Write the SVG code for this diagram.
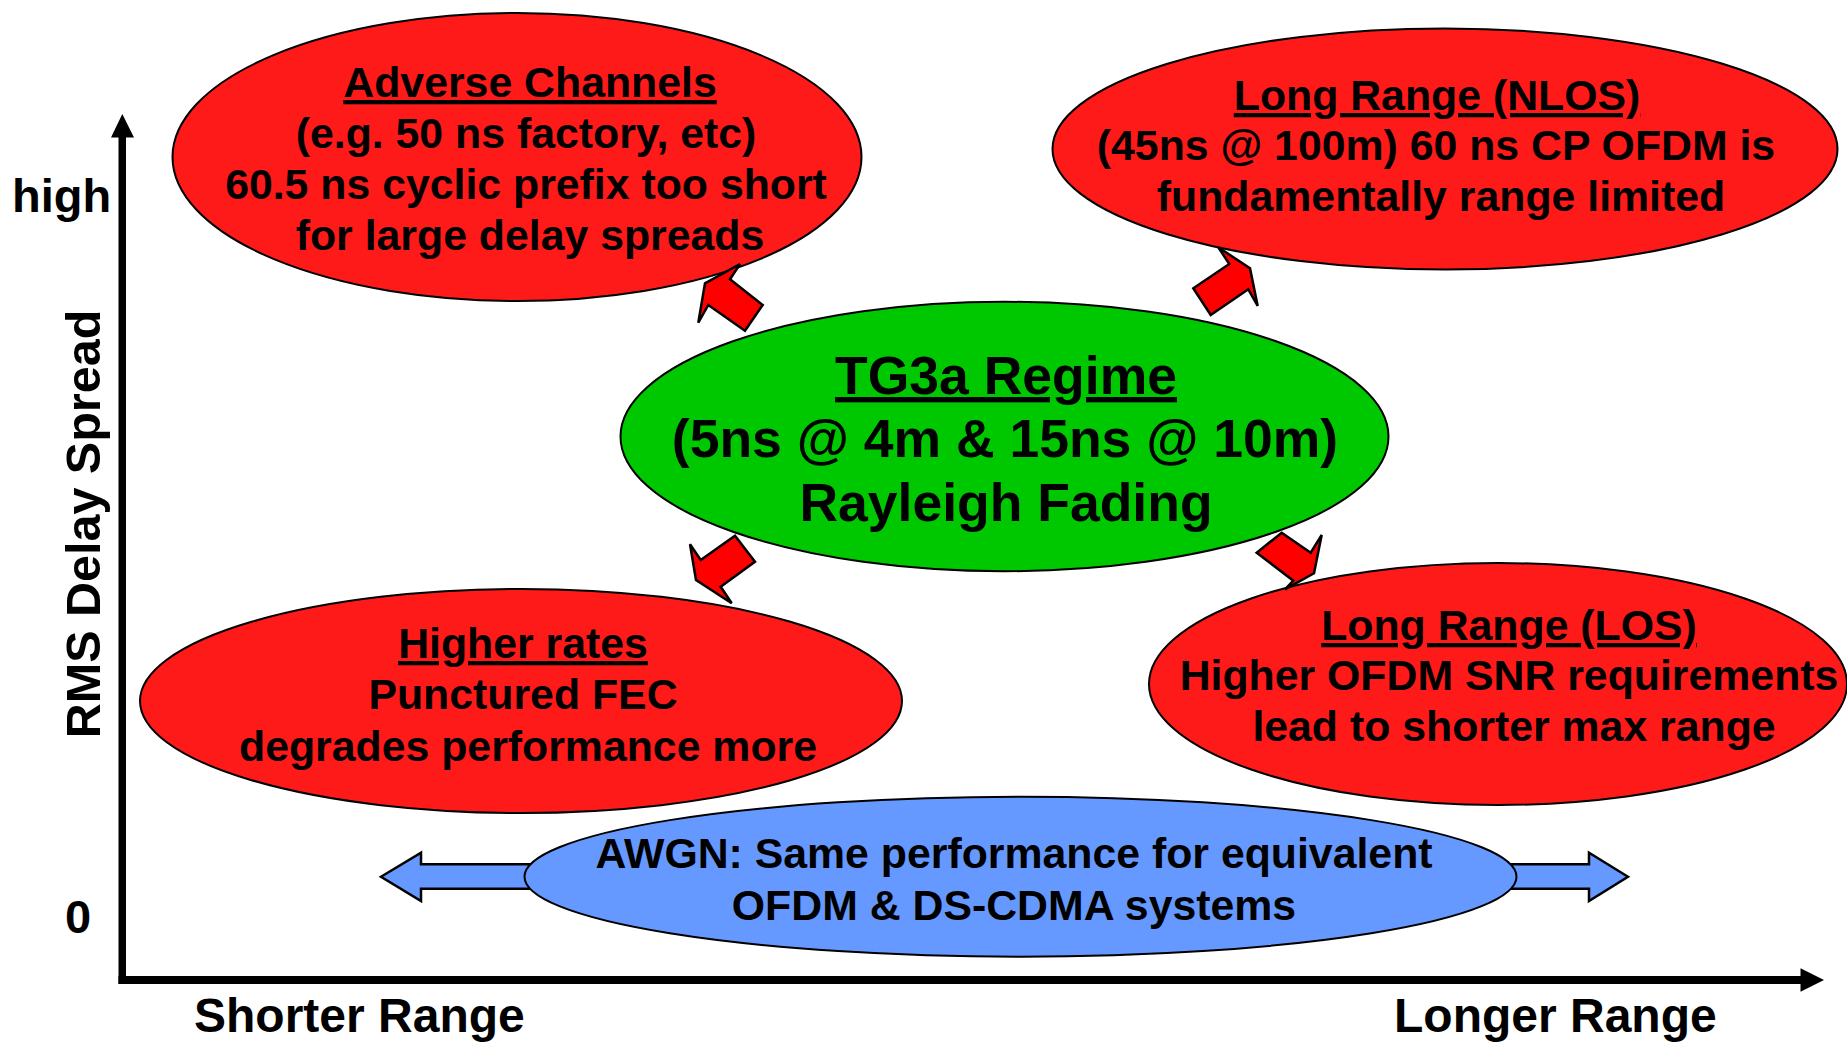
<svg xmlns="http://www.w3.org/2000/svg" width="1847" height="1042" viewBox="0 0 1847 1042">
<style>
text{font-family:"Liberation Sans",Arial,sans-serif;font-weight:bold;fill:#000}
.t42{font-size:42.8px;text-anchor:middle}
.t53{font-size:53.5px;text-anchor:middle}
.ax{font-size:48px}
.u{text-decoration:underline}
.red{fill:#FF1A1A;stroke:#000;stroke-width:2}
.green{fill:#00C800;stroke:#000;stroke-width:2}
.blue{fill:#6699FF;stroke:#000;stroke-width:2}
.barrow{fill:#6699FF;stroke:#000;stroke-width:2.5;stroke-linejoin:miter}
.rarrow{fill:#FF0000;stroke:#000;stroke-width:2.5;stroke-linejoin:miter}
</style>
<rect width="1847" height="1042" fill="#fff"/>
<g id="axes">
<rect x="118.5" y="136" width="7.5" height="848" fill="#000"/>
<polygon points="122.3,114 134,137.5 111,137.5" fill="#000"/>
<rect x="118.5" y="976" width="1683" height="8" fill="#000"/>
<polygon points="1824,980 1800.5,968.3 1800.5,991.7" fill="#000"/>
<text class="ax" x="12" y="212" style="font-size:47px">high</text>
<text class="ax" x="78" y="933" style="font-size:47px;text-anchor:middle">0</text>
<text class="ax" transform="translate(100,524) rotate(-90)" style="text-anchor:middle;font-size:48.5px">RMS Delay Spread</text>
<text class="ax" x="194" y="1032">Shorter Range</text>
<text class="ax" x="1394" y="1032">Longer Range</text>
</g>
<g id="adverse">
<ellipse class="red" cx="517" cy="157" rx="344.5" ry="144"/>
<text class="t42 u" x="530" y="97">Adverse Channels</text>
<text class="t42" x="526" y="148">(e.g. 50 ns factory, etc)</text>
<text class="t42" x="526" y="199">60.5 ns cyclic prefix too short</text>
<text class="t42" x="530" y="250">for large delay spreads</text>
</g>
<g id="nlos">
<ellipse class="red" cx="1445" cy="149" rx="392.5" ry="120.5"/>
<text class="t42 u" x="1437" y="110">Long Range (NLOS)</text>
<text class="t42" x="1436" y="160">(45ns @ 100m) 60 ns CP OFDM is</text>
<text class="t42" x="1441" y="211">fundamentally range limited</text>
</g>
<g id="tg3a">
<ellipse class="green" cx="1004.5" cy="436.5" rx="384" ry="134.7"/>
<text class="t53 u" x="1006" y="394">TG3a Regime</text>
<text class="t53" x="1005" y="457">(5ns @ 4m &amp; 15ns @ 10m)</text>
<text class="t53" x="1006" y="521">Rayleigh Fading</text>
</g>
<g id="higher">
<ellipse class="red" cx="521" cy="701" rx="381" ry="112"/>
<text class="t42 u" x="523" y="658">Higher rates</text>
<text class="t42" x="523" y="709">Punctured FEC</text>
<text class="t42" x="528" y="761">degrades performance more</text>
</g>
<g id="los">
<ellipse class="red" cx="1498" cy="684" rx="349" ry="121"/>
<text class="t42 u" x="1509" y="640">Long Range (LOS)</text>
<text class="t42" x="1509" y="690">Higher OFDM SNR requirements</text>
<text class="t42" x="1514" y="741">lead to shorter max range</text>
</g>
<g id="awgn">
<polygon class="barrow" points="381,876.7 421,852.7 421,864.3 540,864.3 540,888.7 421,888.7 421,901"/>
<polygon class="barrow" points="1628,876.7 1589,852.7 1589,864.3 1500,864.3 1500,888.7 1589,888.7 1589,901"/>
<ellipse class="blue" cx="1020.5" cy="876.7" rx="496" ry="80"/>
<text class="t42" x="1014" y="868">AWGN: Same performance for equivalent</text>
<text class="t42" x="1014" y="920">OFDM &amp; DS-CDMA systems</text>
</g>
<g id="connectors">
<polygon class="rarrow" points="740,264 705,283.3 698.3,322.7 708.3,305 745,330.7 762.7,305 730,279.3"/>
<polygon class="rarrow" points="1218.3,247.3 1229.3,264 1193.3,288.3 1210.7,315 1248.3,289.3 1257.7,306 1250,268.3"/>
<polygon class="rarrow" points="690,544.3 700.7,560 735,535.7 755,561.7 720.7,586.7 731.7,603.3 696,580"/>
<polygon class="rarrow" points="1256.7,552.7 1281.7,532.7 1310.7,552.7 1321.7,535 1314,573.3 1285,589.3 1293.3,580.7"/>
</g>
</svg>
